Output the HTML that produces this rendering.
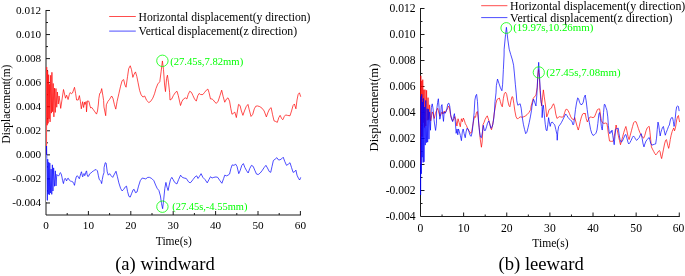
<!DOCTYPE html>
<html><head><meta charset="utf-8"><title>Displacement time history</title>
<style>
html,body{margin:0;padding:0;background:#fff;}
body{width:685px;height:276px;overflow:hidden;position:relative;font-family:"Liberation Serif",serif;}
</style></head><body>
<svg width="685" height="276" viewBox="0 0 685 276" style="position:absolute;left:0;top:0">
<defs><filter id="n" filterUnits="userSpaceOnUse" x="0" y="0" width="685" height="276"><feOffset dx="0" dy="0"/></filter></defs>
<rect width="685" height="276" fill="#fff"/>
<g filter="url(#n)">
<g stroke="#1a1a1a" stroke-width="1.0" fill="none">
<path d="M46.0,9.98999999999998 V215.0 H300.9"/>
<path d="M67.20,215.0 v-2"/>
<path d="M88.40,215.0 v-4"/>
<path d="M109.60,215.0 v-2"/>
<path d="M130.80,215.0 v-4"/>
<path d="M152.00,215.0 v-2"/>
<path d="M173.20,215.0 v-4"/>
<path d="M194.40,215.0 v-2"/>
<path d="M215.60,215.0 v-4"/>
<path d="M236.80,215.0 v-2"/>
<path d="M258.00,215.0 v-4"/>
<path d="M279.20,215.0 v-2"/>
<path d="M300.40,215.0 v-4"/>
<path d="M46.0,202.97 h4"/>
<path d="M46.0,190.94 h2"/>
<path d="M46.0,178.91 h4"/>
<path d="M46.0,166.88 h2"/>
<path d="M46.0,154.85 h4"/>
<path d="M46.0,142.82 h2"/>
<path d="M46.0,130.79 h4"/>
<path d="M46.0,118.76 h2"/>
<path d="M46.0,106.73 h4"/>
<path d="M46.0,94.70 h2"/>
<path d="M46.0,82.67 h4"/>
<path d="M46.0,70.64 h2"/>
<path d="M46.0,58.61 h4"/>
<path d="M46.0,46.58 h2"/>
<path d="M46.0,34.55 h4"/>
<path d="M46.0,22.52 h2"/>
<path d="M46.0,10.49 h4"/>
</g>
<g stroke="#1a1a1a" stroke-width="1.0" fill="none">
<path d="M420.5,8.0 V216.5 H679.78"/>
<path d="M442.06,216.5 v-2"/>
<path d="M463.63,216.5 v-4"/>
<path d="M485.19,216.5 v-2"/>
<path d="M506.76,216.5 v-4"/>
<path d="M528.33,216.5 v-2"/>
<path d="M549.89,216.5 v-4"/>
<path d="M571.46,216.5 v-2"/>
<path d="M593.02,216.5 v-4"/>
<path d="M614.59,216.5 v-2"/>
<path d="M636.15,216.5 v-4"/>
<path d="M657.72,216.5 v-2"/>
<path d="M679.28,216.5 v-4"/>
<path d="M420.5,203.50 h2"/>
<path d="M420.5,190.50 h4"/>
<path d="M420.5,177.50 h2"/>
<path d="M420.5,164.50 h4"/>
<path d="M420.5,151.50 h2"/>
<path d="M420.5,138.50 h4"/>
<path d="M420.5,125.50 h2"/>
<path d="M420.5,112.50 h4"/>
<path d="M420.5,99.50 h2"/>
<path d="M420.5,86.50 h4"/>
<path d="M420.5,73.50 h2"/>
<path d="M420.5,60.50 h4"/>
<path d="M420.5,47.50 h2"/>
<path d="M420.5,34.50 h4"/>
<path d="M420.5,21.50 h2"/>
<path d="M420.5,8.50 h4"/>
</g>
<path d="M46.5,67 V202" stroke="#fff" stroke-width="1" fill="none"/>
<path d="M46.50,154.85 L46.70,67.03 L47.21,125.25 L47.64,70.62 L48.11,123.38 L48.67,74.70 L49.10,118.87 L49.62,84.23 L50.07,121.90 L50.70,75.28 L51.41,113.13 L51.92,72.31 L52.57,111.76 L53.21,83.45 L53.88,116.88 L54.52,88.13 L55.27,112.43 L55.96,88.51 L56.74,107.25 L57.41,92.04 L58.28,104.04 L59.06,95.97 L60.20,104.00 L60.70,108.40 L63.50,89.50 L65.50,98.20 L66.60,95.20 L68.10,99.50 L69.40,94.30 L70.30,92.50 L71.40,93.80 L72.50,93.00 L74.50,87.30 L75.60,93.40 L76.60,100.00 L78.20,100.00 L79.40,95.60 L80.40,101.30 L81.30,108.80 L82.60,101.70 L83.60,107.50 L84.50,102.20 L85.00,104.50 L86.10,101.50 L86.50,111.90 L87.40,100.90 L88.90,101.30 L90.00,106.00 L90.70,108.00 L91.80,107.50 L93.10,109.30 L94.90,111.90 L96.50,114.10 L97.50,111.00 L98.40,104.00 L98.80,98.70 L99.70,93.40 L100.60,93.00 L101.70,88.60 L102.80,95.20 L103.60,100.40 L103.94,106.93 L105.69,115.69 L106.35,104.74 L107.88,101.46 L109.64,99.27 L111.61,95.99 L112.92,98.18 L114.45,104.74 L115.77,109.12 L117.08,101.46 L118.83,93.80 L120.58,86.13 L122.12,80.66 L123.65,79.56 L124.96,85.04 L126.06,87.23 L127.59,76.28 L128.69,68.61 L130.22,65.77 L131.53,69.71 L132.85,77.37 L134.16,74.09 L135.47,71.90 L136.79,76.28 L138.10,82.85 L139.64,90.51 L141.17,94.89 L142.92,97.08 L144.67,95.99 L146.64,100.36 L148.83,102.55 L150.58,101.46 L152.77,98.18 L154.53,93.80 L156.06,88.32 L157.81,83.94 L159.78,81.75 L161.09,71.90 L162.41,60.95 L163.50,69.71 L164.60,85.04 L165.47,91.61 L166.57,78.47 L167.45,75.18 L168.54,82.85 L169.64,92.70 L170.00,100.04 L171.75,98.94 L173.28,95.66 L175.47,92.37 L177.01,91.28 L178.32,95.66 L180.51,105.51 L182.04,101.13 L183.58,98.94 L185.33,97.85 L186.86,98.94 L188.18,94.56 L189.71,91.28 L191.46,92.37 L192.99,95.66 L194.53,98.94 L196.28,101.13 L197.81,95.66 L199.12,93.47 L200.66,94.56 L202.85,94.56 L204.60,92.37 L206.35,90.18 L207.88,89.09 L208.98,92.37 L210.51,98.94 L212.04,98.94 L213.36,100.04 L214.89,102.23 L216.42,103.32 L218.18,101.13 L219.93,95.66 L221.68,90.18 L223.21,96.75 L224.74,102.23 L226.50,98.94 L228.03,97.85 L229.56,101.13 L230.88,108.80 L231.97,114.27 L233.50,113.18 L234.82,112.08 L236.35,117.55 L237.45,110.99 L238.54,104.42 L240.07,105.51 L241.39,110.99 L242.92,115.36 L244.45,110.99 L246.20,106.61 L247.96,104.42 L249.27,109.89 L251.02,116.46 L252.77,114.27 L254.31,108.80 L255.84,106.17 L257.59,105.95 L259.78,106.61 L261.97,108.14 L264.16,110.99 L266.35,116.90 L268.10,112.08 L269.64,108.80 L271.17,107.70 L272.48,114.27 L274.01,120.84 L275.77,121.50 L277.30,122.37 L278.83,117.55 L280.15,115.36 L281.68,118.65 L282.77,119.74 L284.31,116.46 L285.62,114.93 L287.37,115.36 L290.00,115.80 L291.53,110.99 L293.07,105.51 L294.38,103.98 L295.91,108.80 L297.01,100.04 L298.10,94.56 L299.42,92.81 L300.73,96.75" fill="none" stroke="#ff0000" stroke-width="0.7" stroke-linejoin="round"/>
<path d="M46.50,154.85 L46.55,146.00 L46.80,158.22 L47.33,200.40 L47.73,159.19 L48.27,194.20 L48.74,162.18 L49.31,194.81 L49.80,163.06 L50.36,193.07 L51.10,169.11 L51.76,194.36 L52.37,164.85 L52.95,191.02 L53.63,167.85 L54.51,186.25 L55.34,170.84 L56.03,185.93 L56.77,174.44 L58.45,176.13 L59.33,174.82 L60.20,172.63 L61.08,173.50 L61.96,177.01 L62.57,180.51 L63.45,183.58 L64.32,179.64 L65.20,178.32 L65.90,179.64 L66.60,180.95 L67.30,178.76 L68.35,178.32 L69.23,180.07 L70.28,180.95 L71.59,181.39 L72.73,181.82 L73.78,183.58 L74.48,185.33 L75.36,180.51 L76.23,177.01 L77.28,175.69 L78.34,177.01 L79.30,178.76 L80.09,176.13 L80.79,173.50 L81.49,171.75 L82.19,175.26 L82.72,176.83 L83.42,174.38 L84.03,173.50 L84.73,175.69 L85.34,174.38 L86.04,171.75 L86.57,170.88 L87.09,174.38 L87.80,176.57 L88.67,176.13 L89.55,173.94 L90.86,173.07 L92.18,171.75 L93.49,170.88 L94.80,170.00 L96.12,169.56 L97.43,170.88 L98.31,175.26 L99.18,179.20 L100.23,180.51 L100.93,181.39 L101.64,183.58 L102.25,179.64 L103.12,175.26 L104.00,172.63 L104.05,167.52 L105.26,162.70 L106.13,163.14 L107.23,171.90 L108.32,175.18 L109.64,173.65 L111.17,175.84 L112.70,177.37 L114.45,174.09 L115.99,171.24 L117.30,176.28 L118.83,182.85 L120.58,188.32 L122.12,190.95 L123.65,189.42 L125.40,186.79 L126.50,186.13 L127.59,191.61 L128.91,196.42 L130.22,197.08 L131.53,193.80 L133.07,189.85 L134.16,189.42 L135.47,192.70 L137.01,192.04 L138.54,186.13 L140.29,180.66 L142.26,178.03 L144.01,178.47 L145.77,178.91 L147.74,177.37 L149.49,177.37 L151.68,178.47 L153.87,180.66 L155.62,185.04 L157.15,188.32 L158.91,190.51 L160.44,195.99 L161.53,203.65 L162.63,208.69 L163.72,199.27 L164.82,188.32 L165.91,182.41 L167.01,187.23 L168.10,190.51 L169.20,185.04 L170.51,179.56 L171.82,177.37 L173.14,179.56 L174.67,182.41 L176.86,183.94 L178.61,179.56 L180.58,175.18 L182.34,177.37 L184.09,178.03 L186.28,178.47 L188.47,181.75 L190.00,182.85 L190.80,182.41 L192.99,179.56 L195.18,176.72 L196.72,175.84 L198.03,178.47 L199.56,176.28 L201.09,173.65 L202.85,177.37 L205.04,179.56 L207.23,182.85 L208.98,179.56 L210.51,176.72 L212.04,178.03 L213.80,177.37 L215.99,176.93 L217.74,177.37 L219.93,180.66 L221.90,183.28 L223.65,178.47 L224.74,175.18 L226.50,175.84 L228.03,175.18 L229.56,174.09 L230.88,168.61 L232.19,164.89 L233.94,165.33 L235.69,164.23 L237.01,166.42 L238.76,173.65 L240.07,170.80 L241.82,165.33 L243.36,163.58 L244.89,167.52 L246.64,170.80 L248.18,172.99 L249.71,168.61 L251.46,165.33 L253.21,166.42 L254.74,170.15 L256.50,174.09 L258.25,174.53 L260.22,172.99 L261.97,170.80 L264.16,167.52 L265.91,165.33 L267.45,167.96 L269.20,171.46 L270.73,172.34 L272.04,166.42 L273.36,160.51 L275.11,159.20 L276.86,157.66 L278.39,159.85 L279.93,159.85 L281.68,158.76 L283.21,157.23 L284.74,161.39 L286.50,165.33 L288.25,164.23 L290.00,162.70 L291.53,167.52 L293.07,172.34 L294.38,171.90 L295.91,170.15 L297.01,175.18 L298.54,178.47 L299.64,180.00 L300.73,177.37" fill="none" stroke="#0000ff" stroke-width="0.7" stroke-linejoin="round"/>
<path d="M420.50,164.50 L420.80,75.76 L421.26,136.74 L421.75,80.83 L422.17,136.73 L422.76,79.67 L423.26,122.75 L423.84,89.65 L424.45,127.50 L425.01,89.68 L425.79,125.95 L426.59,90.30 L427.22,120.29 L428.06,97.63 L428.75,119.68 L429.62,104.84 L430.70,120.89 L431.06,119.20 L432.23,111.90 L433.25,114.09 L434.27,118.47 L435.44,113.36 L436.61,110.44 L437.63,108.25 L438.65,111.90 L439.82,116.28 L440.99,114.09 L442.01,111.90 L443.03,114.09 L444.20,111.17 L445.36,112.63 L446.39,110.44 L447.41,108.98 L448.58,106.06 L449.45,107.52 L450.47,114.38 L451.50,118.76 L452.66,120.95 L453.83,118.76 L454.85,116.57 L455.88,120.22 L456.90,126.06 L458.07,118.76 L459.09,122.41 L460.26,126.79 L461.42,118.76 L462.45,121.68 L463.32,118.03 L464.34,120.22 L465.36,123.87 L466.39,125.33 L467.55,128.25 L468.72,130.44 L469.74,131.90 L470.77,133.36 L471.64,131.90 L472.66,126.06 L473.69,120.22 L474.56,116.57 L475.58,117.30 L476.31,112.92 L477.34,111.46 L478.21,118.03 L479.23,127.52 L480.26,139.20 L481.42,147.23 L482.15,142.12 L483.03,124.60 L484.05,122.41 L485.07,119.49 L486.24,117.30 L487.26,115.84 L488.28,118.76 L489.45,122.41 L490.62,127.52 L491.50,129.71 L492.37,126.06 L493.39,120.22 L494.27,112.92 L495.00,108.98 L496.02,103.14 L497.04,99.49 L498.21,98.76 L499.38,98.03 L500.40,101.68 L501.42,105.33 L502.30,106.79 L503.32,98.76 L504.34,93.65 L505.51,92.19 L506.68,94.38 L507.85,100.95 L508.87,105.33 L509.89,106.79 L511.06,100.22 L512.08,96.57 L512.85,97.19 L513.87,103.76 L514.89,111.06 L516.06,116.90 L517.52,119.09 L518.98,117.63 L520.44,116.90 L521.90,117.19 L523.36,116.90 L525.11,116.17 L527.01,114.71 L528.91,112.52 L530.66,109.60 L531.13,106.00 L533.32,98.20 L535.95,95.14 L537.26,87.26 L537.66,76.90 L538.54,69.60 L539.42,78.36 L540.07,90.76 L540.77,99.52 L541.64,106.00 L542.52,97.77 L543.39,89.88 L544.27,96.89 L545.58,106.00 L546.72,116.90 L547.88,113.98 L549.05,109.60 L550.22,108.87 L551.39,108.14 L552.55,105.22 L553.58,103.76 L554.60,106.68 L555.77,113.98 L556.93,118.36 L558.10,117.63 L559.27,116.61 L560.58,116.90 L562.04,117.19 L563.50,116.61 L564.67,112.52 L565.69,109.60 L566.86,109.31 L568.03,110.33 L569.34,113.25 L570.80,116.90 L572.26,119.09 L573.72,119.82 L574.74,117.63 L575.91,122.01 L577.08,126.39 L578.25,130.04 L579.27,126.39 L580.29,121.28 L581.46,116.90 L582.63,113.98 L583.94,113.25 L585.11,113.98 L585.16,113.25 L586.17,118.36 L587.34,122.01 L588.65,119.09 L590.11,116.90 L591.57,117.19 L593.03,117.63 L594.49,116.90 L595.95,113.25 L597.41,109.60 L598.87,108.87 L599.60,108.87 L600.33,113.98 L601.35,120.55 L602.52,122.74 L603.98,123.47 L605.44,123.03 L606.90,123.47 L607.63,127.85 L608.36,133.76 L609.53,141.06 L611.28,141.35 L612.74,141.35 L613.76,139.60 L614.93,132.30 L616.09,125.00 L617.12,129.38 L618.28,135.22 L619.45,140.33 L620.47,144.71 L621.50,141.06 L622.66,136.68 L623.83,132.30 L625.00,128.65 L625.88,126.46 L626.90,130.84 L628.07,136.68 L629.09,139.60 L630.26,135.22 L631.42,130.84 L632.59,126.46 L633.61,122.81 L634.64,121.64 L636.09,121.79 L637.26,125.00 L638.43,128.65 L639.74,132.30 L641.20,135.22 L642.66,137.41 L643.69,138.14 L644.85,135.22 L646.02,130.84 L647.19,127.92 L648.36,126.75 L649.23,126.46 L649.96,132.30 L650.69,139.60 L651.42,146.90 L652.45,149.09 L653.61,151.28 L654.78,153.47 L655.80,154.93 L656.97,153.47 L657.99,152.01 L659.16,150.55 L660.04,151.28 L660.91,156.39 L661.64,158.58 L662.37,154.93 L663.54,149.09 L664.56,143.98 L665.58,140.33 L666.46,139.60 L667.48,143.98 L668.65,148.36 L669.38,145.44 L670.26,139.60 L671.13,135.22 L672.15,131.57 L673.03,129.38 L673.76,127.92 L674.49,130.84 L675.22,128.65 L675.95,125.00 L676.68,119.89 L677.70,116.24 L678.43,115.51 L679.16,119.89 L679.60,122.08" fill="none" stroke="#ff0000" stroke-width="0.7" stroke-linejoin="round"/>
<path d="M420.50,164.50 L420.60,195.00 L421.00,96.47 L421.35,173.81 L421.73,94.27 L422.16,157.19 L422.68,102.03 L423.11,162.47 L423.56,98.41 L424.00,161.88 L424.62,107.02 L425.25,145.11 L425.76,100.49 L426.39,142.66 L427.10,108.75 L427.65,142.16 L428.37,109.16 L428.98,139.16 L429.58,111.89 L430.44,130.26 L431.35,107.52 L432.23,103.87 L433.10,108.98 L433.98,119.20 L434.85,126.06 L435.58,130.44 L436.46,123.14 L436.61,110.44 L437.63,102.41 L438.36,98.76 L439.09,107.52 L439.82,119.20 L440.55,116.28 L441.28,106.06 L442.01,104.60 L442.74,114.82 L443.47,121.39 L444.20,111.90 L445.07,113.36 L445.95,111.90 L446.82,108.98 L447.85,103.87 L448.87,103.14 L449.74,106.06 L450.77,115.55 L451.79,119.49 L452.66,121.68 L453.54,116.57 L454.42,113.65 L455.29,121.68 L456.17,133.36 L457.04,128.98 L457.77,134.82 L458.50,128.98 L459.38,131.90 L460.40,135.55 L461.42,140.66 L462.30,131.90 L463.18,128.98 L464.05,133.36 L465.22,137.74 L466.09,131.90 L466.97,128.25 L467.99,128.98 L469.01,131.90 L470.18,135.55 L471.20,136.28 L472.23,131.90 L473.10,123.14 L474.12,112.92 L474.85,100.22 L475.73,95.84 L476.61,94.38 L477.48,101.68 L478.65,123.14 L479.53,131.90 L480.40,137.01 L481.42,137.74 L482.45,131.90 L483.32,125.33 L484.34,130.44 L485.36,130.44 L486.53,126.79 L487.55,123.14 L488.72,120.95 L489.74,123.87 L490.91,128.25 L491.79,127.52 L492.81,124.60 L493.83,118.03 L494.56,110.00 L495.00,101.68 L496.02,92.92 L496.35,85.66 L497.52,79.09 L498.98,83.47 L500.44,87.85 L501.90,90.77 L502.63,84.20 L503.36,69.60 L504.09,55.00 L504.14,49.20 L505.55,34.60 L506.42,27.30 L507.74,38.98 L509.20,49.20 L510.66,54.31 L512.41,60.00 L513.58,65.22 L514.45,73.98 L515.33,84.20 L516.20,92.96 L516.79,100.84 L517.81,105.22 L518.98,104.49 L520.15,103.76 L521.17,108.14 L522.19,116.90 L523.36,124.20 L524.53,129.31 L525.69,133.69 L526.86,132.23 L528.03,127.85 L529.20,122.74 L530.36,116.90 L531.53,110.33 L532.01,106.00 L533.50,99.08 L534.64,102.15 L535.95,106.00 L536.82,95.14 L538.10,71.06 L538.69,62.30 L539.27,72.52 L540.33,90.76 L541.20,102.15 L542.08,106.00 L542.13,117.63 L542.63,109.60 L543.36,105.22 L544.23,113.98 L545.26,124.20 L546.13,130.04 L547.01,130.77 L547.88,124.20 L548.61,117.63 L549.34,122.01 L550.22,126.39 L551.09,122.74 L552.26,122.01 L553.43,123.47 L554.74,124.93 L555.77,129.31 L556.93,134.42 L557.23,140.26 L557.81,131.50 L558.69,126.39 L559.85,124.93 L561.31,122.74 L562.77,119.82 L564.23,116.90 L565.69,113.98 L566.86,115.44 L568.18,117.63 L569.49,119.09 L570.80,120.55 L571.97,121.28 L572.99,124.93 L573.72,124.20 L574.45,118.36 L575.47,109.60 L576.50,103.03 L577.66,97.92 L578.54,98.65 L579.56,102.30 L580.73,104.49 L582.04,104.49 L583.21,102.30 L584.23,97.19 L585.11,95.73 L585.16,95.00 L586.17,100.84 L587.19,109.60 L588.21,116.90 L589.38,122.74 L590.55,129.31 L591.72,133.25 L593.03,135.44 L594.49,134.71 L595.95,133.25 L596.97,130.04 L597.85,123.47 L598.87,113.98 L599.60,112.52 L600.47,118.36 L601.35,126.39 L602.23,130.04 L602.81,124.20 L603.54,112.52 L604.27,104.49 L605.00,104.49 L605.88,107.41 L606.90,110.33 L607.77,116.90 L608.36,125.66 L609.09,131.50 L609.82,133.76 L610.55,131.57 L611.28,132.30 L612.01,130.11 L612.74,135.22 L613.61,141.06 L614.20,144.71 L614.93,136.68 L615.66,129.38 L616.39,128.65 L617.41,128.65 L618.28,128.21 L619.01,133.76 L620.04,139.60 L621.20,142.23 L622.37,141.06 L623.69,138.14 L624.85,135.22 L625.88,134.49 L626.90,138.14 L628.07,142.52 L628.80,143.98 L629.96,142.52 L631.13,140.33 L632.45,137.41 L633.47,135.95 L634.64,137.41 L635.80,139.60 L636.82,140.33 L637.99,138.87 L639.31,137.41 L640.47,134.49 L641.35,133.76 L642.23,138.87 L643.10,143.98 L643.98,146.90 L644.85,143.98 L646.02,141.06 L647.19,139.60 L648.36,138.14 L649.23,137.41 L649.96,140.33 L650.69,143.25 L651.86,145.15 L653.03,144.71 L654.34,144.27 L655.66,143.98 L656.53,138.14 L657.26,129.38 L657.99,122.08 L658.72,125.00 L659.45,130.84 L660.18,135.95 L660.91,132.30 L661.79,129.38 L662.66,127.19 L663.39,126.46 L664.27,130.84 L665.29,135.22 L666.31,132.30 L667.48,129.38 L668.50,126.46 L669.38,125.00 L670.40,119.89 L671.42,117.70 L672.59,117.70 L673.32,121.35 L674.05,126.46 L674.64,124.27 L675.22,118.43 L675.95,111.13 L676.68,106.75 L677.70,106.02 L678.43,106.46 L679.16,111.13" fill="none" stroke="#0000ff" stroke-width="0.7" stroke-linejoin="round"/>
<text x="41.2" y="206.27" font-family="Liberation Serif, serif" font-size="11.2" text-anchor="end" fill="#000" >-0.004</text>
<text x="41.2" y="182.21" font-family="Liberation Serif, serif" font-size="11.2" text-anchor="end" fill="#000" >-0.002</text>
<text x="41.2" y="158.15" font-family="Liberation Serif, serif" font-size="11.2" text-anchor="end" fill="#000" >0.000</text>
<text x="41.2" y="134.09" font-family="Liberation Serif, serif" font-size="11.2" text-anchor="end" fill="#000" >0.002</text>
<text x="41.2" y="110.02999999999999" font-family="Liberation Serif, serif" font-size="11.2" text-anchor="end" fill="#000" >0.004</text>
<text x="41.2" y="85.96999999999998" font-family="Liberation Serif, serif" font-size="11.2" text-anchor="end" fill="#000" >0.006</text>
<text x="41.2" y="61.90999999999998" font-family="Liberation Serif, serif" font-size="11.2" text-anchor="end" fill="#000" >0.008</text>
<text x="41.2" y="37.849999999999994" font-family="Liberation Serif, serif" font-size="11.2" text-anchor="end" fill="#000" >0.010</text>
<text x="41.2" y="13.789999999999981" font-family="Liberation Serif, serif" font-size="11.2" text-anchor="end" fill="#000" >0.012</text>
<text x="46.0" y="228.6" font-family="Liberation Serif, serif" font-size="11.2" text-anchor="middle" fill="#000" >0</text>
<text x="88.4" y="228.6" font-family="Liberation Serif, serif" font-size="11.2" text-anchor="middle" fill="#000" >10</text>
<text x="130.8" y="228.6" font-family="Liberation Serif, serif" font-size="11.2" text-anchor="middle" fill="#000" >20</text>
<text x="173.2" y="228.6" font-family="Liberation Serif, serif" font-size="11.2" text-anchor="middle" fill="#000" >30</text>
<text x="215.6" y="228.6" font-family="Liberation Serif, serif" font-size="11.2" text-anchor="middle" fill="#000" >40</text>
<text x="258.0" y="228.6" font-family="Liberation Serif, serif" font-size="11.2" text-anchor="middle" fill="#000" >50</text>
<text x="300.4" y="228.6" font-family="Liberation Serif, serif" font-size="11.2" text-anchor="middle" fill="#000" >60</text>
<text x="173.8" y="244.8" font-family="Liberation Serif, serif" font-size="11.5" text-anchor="middle" fill="#000" >Time(s)</text>
<text transform="translate(10.2,143.4) rotate(-90)" font-family="Liberation Serif, serif" font-size="12" textLength="78.8" lengthAdjust="spacingAndGlyphs">Displacement(m)</text>
<text x="165" y="269.9" font-family="Liberation Serif, serif" font-size="18.6" text-anchor="middle" fill="#000" >(a) windward</text>
<text x="415.6" y="219.8" font-family="Liberation Serif, serif" font-size="11.6" text-anchor="end" fill="#000" >-0.004</text>
<text x="415.6" y="193.8" font-family="Liberation Serif, serif" font-size="11.6" text-anchor="end" fill="#000" >-0.002</text>
<text x="415.6" y="167.8" font-family="Liberation Serif, serif" font-size="11.6" text-anchor="end" fill="#000" >0.000</text>
<text x="415.6" y="141.8" font-family="Liberation Serif, serif" font-size="11.6" text-anchor="end" fill="#000" >0.002</text>
<text x="415.6" y="115.8" font-family="Liberation Serif, serif" font-size="11.6" text-anchor="end" fill="#000" >0.004</text>
<text x="415.6" y="89.8" font-family="Liberation Serif, serif" font-size="11.6" text-anchor="end" fill="#000" >0.006</text>
<text x="415.6" y="63.8" font-family="Liberation Serif, serif" font-size="11.6" text-anchor="end" fill="#000" >0.008</text>
<text x="415.6" y="37.8" font-family="Liberation Serif, serif" font-size="11.6" text-anchor="end" fill="#000" >0.010</text>
<text x="415.6" y="11.8" font-family="Liberation Serif, serif" font-size="11.6" text-anchor="end" fill="#000" >0.012</text>
<text x="420.5" y="232.2" font-family="Liberation Serif, serif" font-size="11.6" text-anchor="middle" fill="#000" >0</text>
<text x="463.63" y="232.2" font-family="Liberation Serif, serif" font-size="11.6" text-anchor="middle" fill="#000" >10</text>
<text x="506.76" y="232.2" font-family="Liberation Serif, serif" font-size="11.6" text-anchor="middle" fill="#000" >20</text>
<text x="549.89" y="232.2" font-family="Liberation Serif, serif" font-size="11.6" text-anchor="middle" fill="#000" >30</text>
<text x="593.02" y="232.2" font-family="Liberation Serif, serif" font-size="11.6" text-anchor="middle" fill="#000" >40</text>
<text x="636.15" y="232.2" font-family="Liberation Serif, serif" font-size="11.6" text-anchor="middle" fill="#000" >50</text>
<text x="678.5" y="232.2" font-family="Liberation Serif, serif" font-size="11.6" text-anchor="middle" fill="#000" >60</text>
<text x="550.4" y="247.3" font-family="Liberation Serif, serif" font-size="11.6" text-anchor="middle" fill="#000" >Time(s)</text>
<text transform="translate(378,151.4) rotate(-90)" font-family="Liberation Serif, serif" font-size="13" textLength="87.8" lengthAdjust="spacingAndGlyphs">Displacement(m)</text>
<text x="541.2" y="270" font-family="Liberation Serif, serif" font-size="18.6" text-anchor="middle" fill="#000" >(b) leeward</text>
<path d="M109.2,16.5 H135.8" stroke="#ff0000" stroke-width="0.7"/>
<path d="M109.2,31.1 H135.8" stroke="#0000ff" stroke-width="0.7"/>
<text x="138.5" y="21.0" font-family="Liberation Serif, serif" font-size="11.7" text-anchor="start" fill="#000" textLength="172" lengthAdjust="spacingAndGlyphs">Horizontal displacement(y direction)</text>
<text x="138.5" y="35.1" font-family="Liberation Serif, serif" font-size="11.7" text-anchor="start" fill="#000" textLength="158.6" lengthAdjust="spacingAndGlyphs">Vertical displacement(z direction)</text>
<path d="M481.2,5.7 H507.4" stroke="#ff0000" stroke-width="0.7"/>
<path d="M481.2,17.6 H507.4" stroke="#0000ff" stroke-width="0.7"/>
<text x="510.1" y="9.6" font-family="Liberation Serif, serif" font-size="11.7" text-anchor="start" fill="#000" textLength="175.2" lengthAdjust="spacingAndGlyphs">Horizontal displacement(y direction)</text>
<text x="510.1" y="21.9" font-family="Liberation Serif, serif" font-size="11.7" text-anchor="start" fill="#000" textLength="162.3" lengthAdjust="spacingAndGlyphs">Vertical displacement(z direction)</text>
<circle cx="162.4" cy="60.8" r="5.7" fill="none" stroke="#00ff00" stroke-width="0.8"/>
<circle cx="162.4" cy="206.7" r="5.7" fill="none" stroke="#00ff00" stroke-width="0.8"/>
<text x="170.2" y="64.7" font-family="Liberation Serif, serif" font-size="10.1" text-anchor="start" fill="#00ff00" textLength="73" lengthAdjust="spacingAndGlyphs">(27.45s,7.82mm)</text>
<text x="172.2" y="210.3" font-family="Liberation Serif, serif" font-size="10.1" text-anchor="start" fill="#00ff00" textLength="75.2" lengthAdjust="spacingAndGlyphs">(27.45s,-4.55mm)</text>
<circle cx="506.3" cy="28.0" r="5.4" fill="none" stroke="#00ff00" stroke-width="0.8"/>
<circle cx="538.8" cy="72.4" r="5.6" fill="none" stroke="#00ff00" stroke-width="0.8"/>
<text x="513.2" y="31.4" font-family="Liberation Serif, serif" font-size="10.6" text-anchor="start" fill="#00ff00" textLength="80.2" lengthAdjust="spacingAndGlyphs">(19.97s,10.26mm)</text>
<text x="546.2" y="76.2" font-family="Liberation Serif, serif" font-size="10.6" text-anchor="start" fill="#00ff00" textLength="74.4" lengthAdjust="spacingAndGlyphs">(27.45s,7.08mm)</text>
</g></svg>
</body></html>
